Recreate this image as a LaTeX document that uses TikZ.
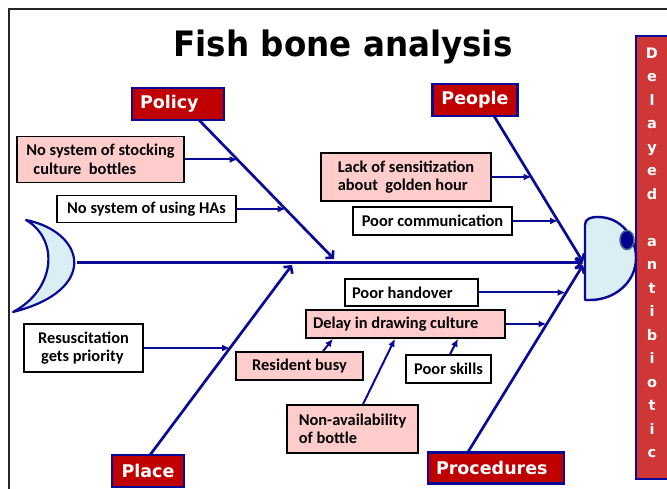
\documentclass[tikz,border=0pt]{standalone}
\usepackage{fontspec}
\usetikzlibrary{arrows.meta}
\newfontfamily\carl{Carlito}
\newfontfamily\dvs{DejaVu Sans}
\definecolor{fbnavy}{RGB}{10,10,150}
\definecolor{fbred}{RGB}{192,0,0}
\definecolor{fbvred}{RGB}{207,54,54}
\definecolor{fbpink}{RGB}{255,204,204}
\definecolor{fblight}{RGB}{218,238,243}
\definecolor{fbeye}{RGB}{0,0,140}
\definecolor{fbeyeline}{RGB}{70,100,140}
\begin{document}
\begin{tikzpicture}[x=1pt,y=-1pt,
  catbox/.style={draw=fbnavy, line width=2.2pt, fill=fbred, text=white,
    font=\dvs\bfseries\fontsize{17.5}{20}\selectfont, inner sep=0pt},
  tbox/.style={draw=black, line width=1.5pt, fill=white,
    font=\carl\bfseries\fontsize{16.4}{18.5}\selectfont, inner sep=0pt},
  pbox/.style={tbox, fill=fbpink},
  bone/.style={draw=fbnavy, line width=2.7pt, -{Straight Barb[length=5pt,width=11pt]}},
  twig/.style={draw=fbnavy, line width=2pt, -{Latex[length=8pt,width=7pt]}},
  vletter/.style={text=white, font=\dvs\bfseries\fontsize{14.5}{16}\selectfont, inner sep=0pt, anchor=base}
]
\useasboundingbox (0,0) rectangle (667,489);
\fill[white] (0,0) rectangle (667,489);
% frame
\draw[black!85, line width=1.8pt] (9,495) -- (9,9) -- (675,9);
% title
\node[anchor=base, inner sep=0pt, font=\dvs\bfseries\fontsize{35}{40}\selectfont] (title) at (343,57)
  {\scalebox{0.93}[1]{Fish bone analysis}};
% outcome box
\node[draw=fbnavy, line width=2.2pt, fill=fbvred, minimum width=34pt, minimum height=443pt, inner sep=0pt]
  (outcome) at (653,257.5) {};
\foreach \c [count=\i from 0] in {D,e,l,a,y,e,d,{},a,n,t,i,b,i,o,t,i,c}
  \node[vletter] (L\i) at (652,58.3+23.5*\i) {\c};
% fish head
\draw[fbnavy, line width=2.4pt, fill=fblight, line join=round]
  (585,225) .. controls (585,219) and (590,217) .. (598,217)
  .. controls (622,217) and (636,238) .. (636,258)
  .. controls (636,282) and (615,300) .. (590,300) -- (585,300) -- cycle;
\fill[fbeye, draw=fbeyeline, line width=1.5pt] (627,240) ellipse [x radius=7pt, y radius=9.5pt];
% tail
\draw[fbnavy, line width=2.2pt, fill=fblight, line join=round]
  (26,220) .. controls (85,232) and (100,290) .. (13,312)
  .. controls (55,290) and (60,240) .. (26,220) -- cycle;
% category boxes
\node[catbox, minimum width=92pt, minimum height=32pt] (policy) at (178,104) {\makebox[76pt][l]{Policy}};
\node[catbox, minimum width=85pt, minimum height=32pt] (people) at (475,100) {People};
\node[catbox, minimum width=72pt, minimum height=32pt] (place) at (148,471) {Place};
\node[catbox, minimum width=136pt, minimum height=31pt] (procedures) at (496,468) {\makebox[120pt][l]{Procedures}};
% cause boxes
\node[pbox, minimum width=167pt, minimum height=46pt, align=left] (stock) at (100.5,159.5)
  {No system of stocking\\\hspace*{7pt}culture\ \ bottles};
\node[tbox, minimum width=179pt, minimum height=27pt] (has) at (146.5,209) {No system of using HAs};
\node[pbox, minimum width=170pt, minimum height=48pt, align=left] (sens) at (406,177)
  {Lack of sensitization\\about\ \ golden hour};
\node[tbox, minimum width=159pt, minimum height=28pt] (comm) at (432.5,221) {Poor communication};
\node[tbox, minimum width=119pt, minimum height=48pt, align=left] (resus) at (83.5,348)
  {Resuscitation\\\hspace*{3pt}gets priority};
\node[tbox, minimum width=133pt, minimum height=27pt] (handover) at (411.5,292.5) {\makebox[119pt][l]{Poor handover}};
\node[pbox, minimum width=199pt, minimum height=28pt] (delay) at (405.5,324) {\makebox[185pt][l]{Delay in drawing culture}};
\node[pbox, minimum width=127pt, minimum height=28pt] (resident) at (299.5,366) {Resident busy};
\node[tbox, minimum width=85pt, minimum height=28pt] (skills) at (448.5,369) {Poor skills};
\node[pbox, minimum width=131pt, minimum height=48pt, align=left] (nonavail) at (352.5,429)
  {Non-availability\\of bottle};
% bone coordinates
\coordinate (tailjoin) at (77,263);
\coordinate (headL) at (583,263);
\coordinate (polA) at (199,120);
\coordinate (polB) at (334,259);
\coordinate (peoA) at (494,116);
\coordinate (peoB) at (583,262);
\coordinate (plaA) at (150,455);
\coordinate (plaB) at (292,265);
\coordinate (proA) at (468,452);
\coordinate (proB) at (583,265);
\coordinate (pStock) at (237.5,159.5);
\coordinate (pHas) at (285.5,209);
\coordinate (pSens) at (531.5,177);
\coordinate (pComm) at (558,221);
\coordinate (pResus) at (230,348);
\coordinate (pHand) at (565.5,292.5);
\coordinate (pDelay) at (546.5,324);
% spine and bones
\draw[bone, line width=3pt] (tailjoin) -- (headL);
\draw[bone] (polA) -- (polB);
\draw[bone] (peoA) -- (peoB);
\draw[bone] (plaA) -- (plaB);
\draw[bone] (proA) -- (proB);
% twigs
\draw[twig] (stock.east) -- (pStock);
\draw[twig] (has.east) -- (pHas);
\draw[twig] (sens.east) -- (pSens);
\draw[twig] (comm.east) -- (pComm);
\draw[twig] (resus.east) -- (pResus);
\draw[twig] (handover.east) -- (pHand);
\draw[twig] (delay.east) -- (pDelay);
\draw[twig] ([xshift=23.5pt]resident.north) -- ([xshift=-72.5pt]delay.south);
\draw[twig] ([xshift=1.5pt]skills.north) -- ([xshift=52.5pt]delay.south);
\draw[twig] ([xshift=10.5pt]nonavail.north) -- ([xshift=-10.5pt]delay.south);
\end{tikzpicture}
\end{document}
